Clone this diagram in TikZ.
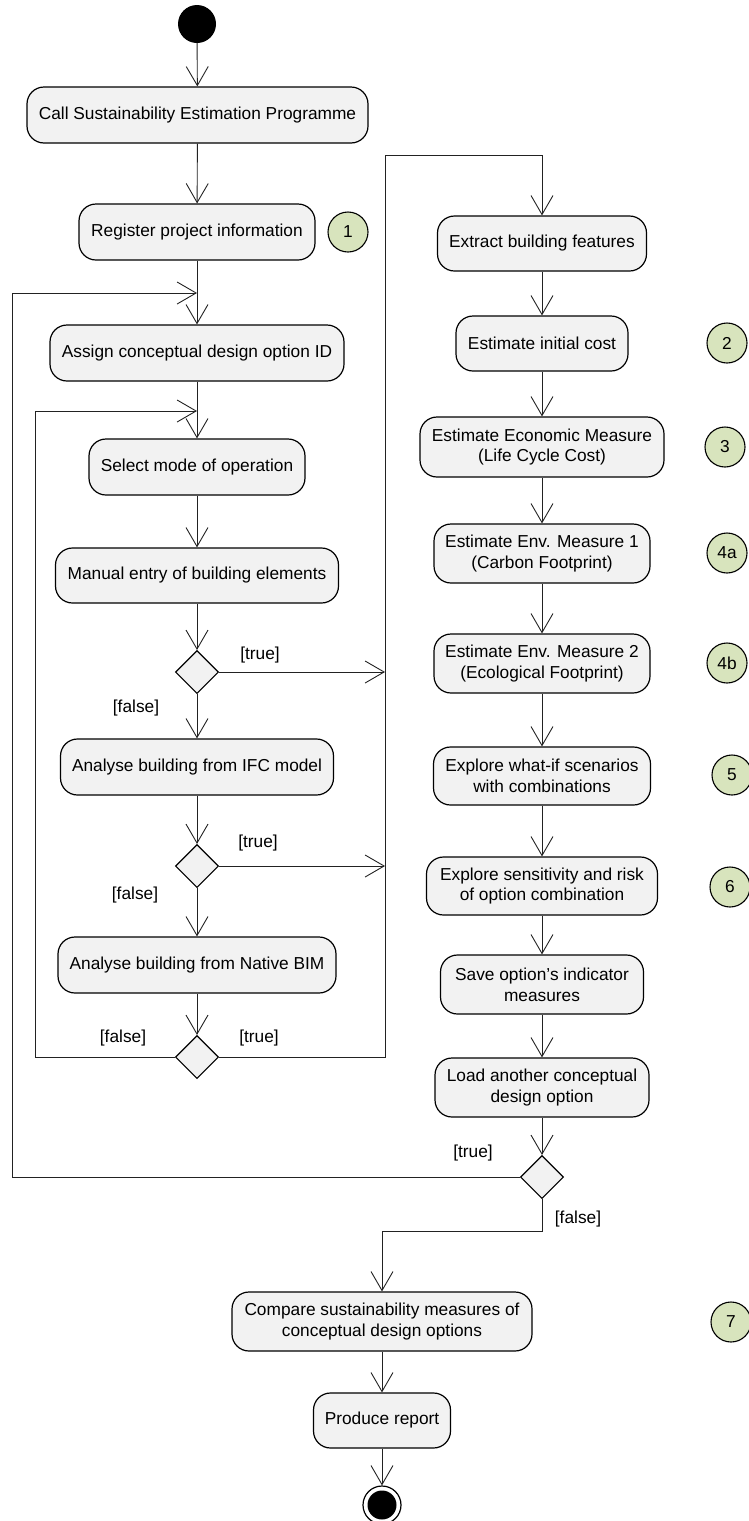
\documentclass[tikz,border=0pt]{standalone}
\usepackage{fontspec}
\setmainfont{Liberation Sans}
\usetikzlibrary{arrows.meta,shapes.geometric}
\definecolor{boxfill}{HTML}{F2F2F2}
\definecolor{numfill}{HTML}{D8E4BD}
\definecolor{linecol}{HTML}{222222}
\tikzset{
  act/.style={draw=black, fill=boxfill, line width=1.2pt, rounded corners=17pt, align=center, inner sep=0pt},
  dec/.style={draw=black, fill=boxfill, line width=1.1pt, diamond, minimum width=43pt, minimum height=43pt, inner sep=0pt},
  num/.style={draw=black, fill=numfill, line width=1.1pt, circle, minimum size=40pt, inner sep=0pt},
  lbl/.style={inner sep=0pt},
  conn/.style={draw=linecol, line width=0.9pt},
  arr/.style={conn, -{Straight Barb[length=19pt,width=22pt]}},
}
\begin{document}
\begin{tikzpicture}[x=1pt,y=-1pt,font=\fontsize{17.3}{20.7}\selectfont]
\useasboundingbox (0,0) rectangle (748,1521);
% start
\node[circle, fill=black, minimum size=38pt, inner sep=0pt] (start) at (197,24) {};
% left column
\node[act, minimum width=341pt, minimum height=56pt] (call) at (197.5,115) {Call Sustainability Estimation Programme};
\node[act, minimum width=236pt, minimum height=56pt] (reg) at (197,232) {Register project information};
\node[num] (c1) at (348,232) {1};
\node[act, minimum width=294pt, minimum height=56pt] (assign) at (197,353) {Assign conceptual design option ID};
\node[act, minimum width=216pt, minimum height=56pt] (select) at (197,467) {Select mode of operation};
\node[act, minimum width=283pt, minimum height=55pt] (manual) at (197,575.5) {Manual entry of building elements};
\node[dec] (d1) at (197,672) {};
\node[act, minimum width=273pt, minimum height=56pt] (ifc) at (197,767) {Analyse building from IFC model};
\node[dec] (d2) at (197,866) {};
\node[act, minimum width=278pt, minimum height=56pt] (bim) at (197,965) {Analyse building from Native BIM};
\node[dec] (d3) at (197,1057) {};
% right column
\node[act, minimum width=209pt, minimum height=55pt] (extract) at (542,243.5) {Extract building features};
\node[act, minimum width=172pt, minimum height=55pt] (initial) at (542,343.5) {Estimate initial cost};
\node[num] (c2) at (727,343) {2};
\node[act, minimum width=244pt, minimum height=60pt] (econ) at (542,447) {Estimate Economic Measure\\(Life Cycle Cost)};
\node[num] (c3) at (725,447) {3};
\node[act, minimum width=216pt, minimum height=59pt] (env1) at (542,553.5) {Estimate Env. Measure 1\\(Carbon Footprint)};
\node[num] (c4a) at (727,553) {4a};
\node[act, minimum width=216pt, minimum height=59pt] (env2) at (542,663.5) {Estimate Env. Measure 2\\(Ecological Footprint)};
\node[num] (c4b) at (727,663) {4b};
\node[act, minimum width=217pt, minimum height=58pt] (whatif) at (542,776) {Explore what-if scenarios\\with combinations};
\node[num] (c5) at (732,775) {5};
\node[act, minimum width=231pt, minimum height=58pt] (sens) at (542,886) {Explore sensitivity and risk\\of option combination};
\node[num] (c6) at (730,887) {6};
\node[act, minimum width=203pt, minimum height=59pt] (save) at (542,984.5) {Save option’s indicator\\measures};
\node[act, minimum width=214pt, minimum height=59pt] (load) at (542,1087.5) {Load another conceptual\\design option};
\node[dec] (d4) at (542,1177) {};
% bottom
\node[act, minimum width=300pt, minimum height=59pt] (compare) at (382,1321.5) {Compare sustainability measures of\\conceptual design options};
\node[num] (c7) at (731,1322) {7};
\node[act, minimum width=137pt, minimum height=55pt] (report) at (382,1420.5) {Produce report};
\node[circle, draw=black, line width=1.2pt, fill=white, minimum size=38pt, inner sep=0pt] (end) at (382,1505) {};
\node[circle, fill=black, minimum size=29pt, inner sep=0pt] (endin) at (382,1505) {};
% coordinates
\coordinate (m1) at (197,293);
\coordinate (m2) at (197,411);
\coordinate (lc1) at (12,293);
\coordinate (lc2) at (35,411);
\coordinate (j1) at (385,672);
\coordinate (j2) at (385,866);
\coordinate (tc) at (385,155);
\coordinate (fc) at (542,1231);
% connectors
\draw[arr] (start) -- (call);
\draw[arr] (call) -- (reg);
\draw[arr] (reg) -- (assign);
\draw[arr] (assign) -- (select);
\draw[arr] (select) -- (manual);
\draw[arr] (manual) -- (d1);
\draw[arr] (d1) -- (ifc);
\draw[arr] (d1.east) -- (j1);
\draw[arr] (ifc) -- (d2);
\draw[arr] (d2) -- (bim);
\draw[arr] (d2.east) -- (j2);
\draw[arr] (bim) -- (d3);
\draw[arr] (d3.east) -| (tc) -| (extract.north);
\draw[arr] (d3.west) -| (lc2) -- (m2);
\draw[arr] (extract) -- (initial);
\draw[arr] (initial) -- (econ);
\draw[arr] (econ) -- (env1);
\draw[arr] (env1) -- (env2);
\draw[arr] (env2) -- (whatif);
\draw[arr] (whatif) -- (sens);
\draw[arr] (sens) -- (save);
\draw[arr] (save) -- (load);
\draw[arr] (load) -- (d4);
\draw[arr] (d4.west) -| (lc1) -- (m1);
\draw[arr] (d4.south) -- (fc) -| (compare.north);
\draw[arr] (compare) -- (report);
\draw[arr] (report) -- (end);
% labels
\node[lbl] (t1) at (260,655) {[true]};
\node[lbl] (f1) at (136,708) {[false]};
\node[lbl] (t2) at (258,843) {[true]};
\node[lbl] (f2) at (135,895) {[false]};
\node[lbl] (f3) at (123,1038) {[false]};
\node[lbl] (t3) at (259,1038) {[true]};
\node[lbl] (t4) at (473,1153) {[true]};
\node[lbl] (f4) at (578,1219) {[false]};
\end{tikzpicture}
\end{document}
